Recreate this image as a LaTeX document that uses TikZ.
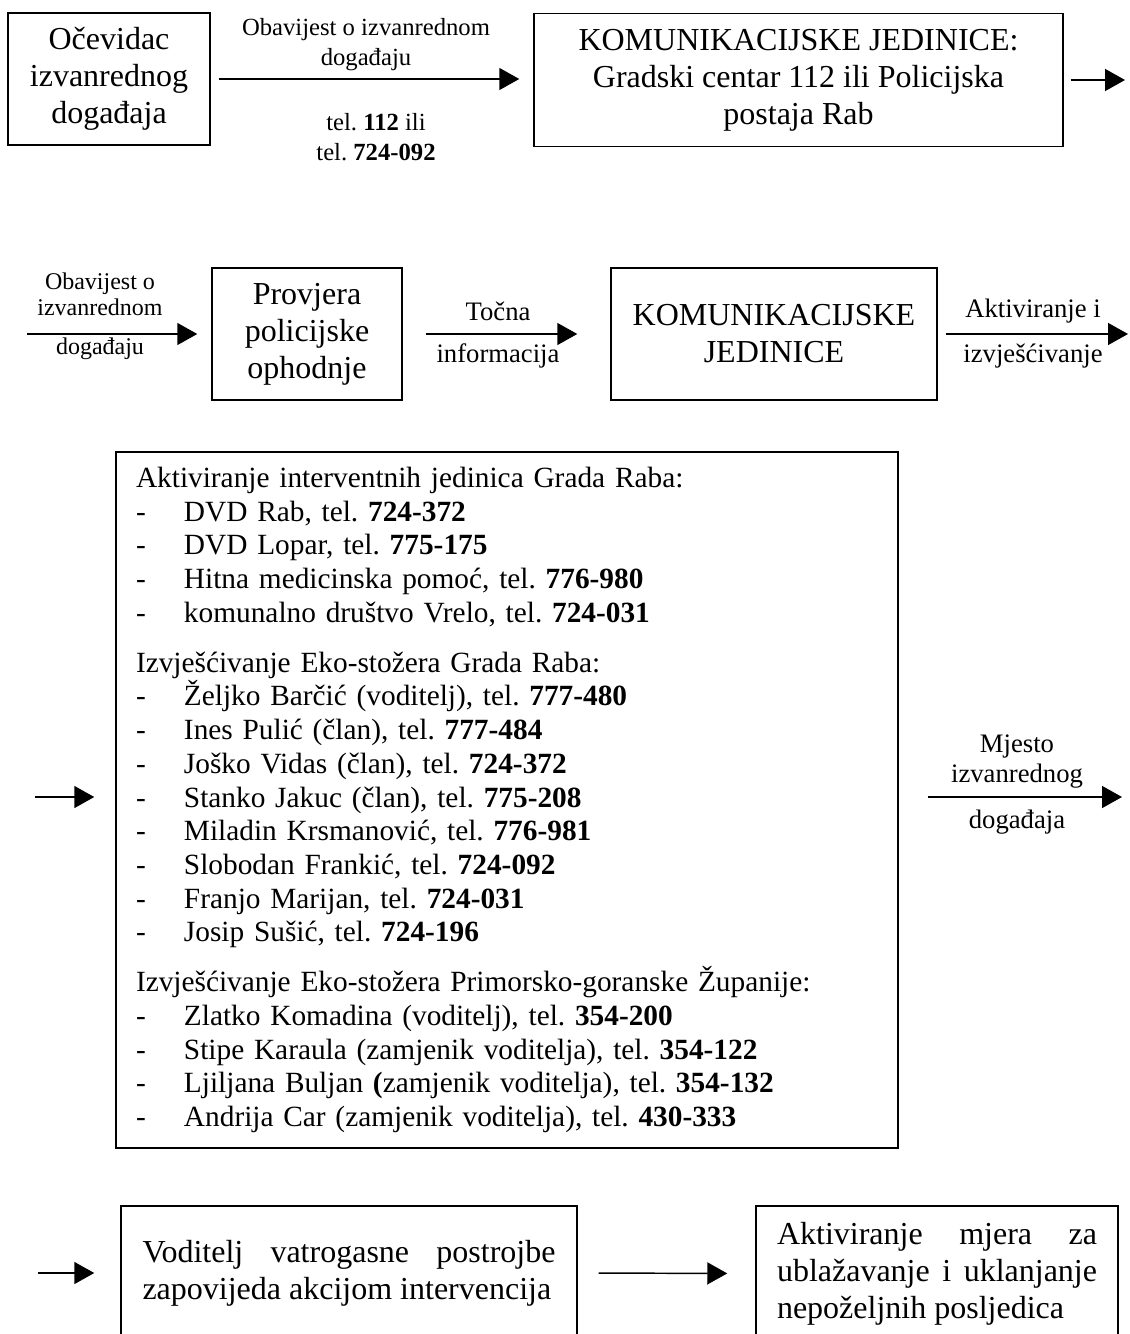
\documentclass[tikz,border=0pt]{standalone}
\usepackage{fontspec}
\setmainfont{Liberation Serif}
\usetikzlibrary{arrows.meta}
\newcommand\itm{\makebox[36pt][l]{-}}
\frenchspacing
\begin{document}
\begin{tikzpicture}[x=0.75pt,y=-0.75pt,
  box/.style={draw,line width=1.1pt,inner sep=0pt,align=center,font=\fontsize{24}{27.75}\selectfont},
  lbl/.style={inner sep=0pt,align=center},
  arr/.style={line width=1.1pt,-{Triangle[length=15pt,width=16.5pt]}}]
\useasboundingbox (0,0) rectangle (1129,1334);
\clip (0,0) rectangle (1129,1334);
% row 1
\node[box,minimum width=151.5pt,minimum height=99pt] (A) at (109,79) {Očevidac\\izvanrednog\\događaja};
\node[box,minimum width=396.75pt,minimum height=100pt] (B) at (798.5,80) {KOMUNIKACIJSKE JEDINICE:\\Gradski centar 112 ili Policijska\\postaja Rab};
\coordinate (r1) at (1125,80);
\draw[arr,shorten <=6pt,shorten >=10.5pt] (A.east) -- (A.east -| B.west);
\draw[arr,shorten <=5.25pt] (B.east |- r1) -- (r1);
\node[lbl,font=\fontsize{18.5}{22.5}\selectfont] (l1a) at (366,45) {Obavijest o izvanrednom\\događaju};
\node[lbl,font=\fontsize{18.5}{22.5}\selectfont] (l1b) at (376,137) {tel. \textbf{112} ili\\tel. \textbf{724-092}};
% row 2
\node[box,minimum width=142.5pt,minimum height=99pt] (C) at (307,334) {Provjera\\policijske\\ophodnje};
\node[box,minimum width=244.5pt,minimum height=99pt] (D) at (774,334) {KOMUNIKACIJSKE\\JEDINICE};
\coordinate (l2) at (27,334);
\coordinate (r2) at (1128,334);
\draw[arr,shorten >=10.5pt] (l2) -- (C.west);
\draw[arr,shorten <=17.25pt,shorten >=24.75pt] (C.east) -- (D.west);
\draw[arr,shorten <=6pt] (D.east) -- (r2);
\node[lbl,font=\fontsize{18}{19.5}\selectfont] (l2a) at (100,294) {Obavijest o\\izvanrednom};
\node[lbl,font=\fontsize{18}{19.5}\selectfont] (l2b) at (100,349) {događaju};
\node[lbl,font=\fontsize{20}{22}\selectfont] (l2c) at (498,311) {Točna};
\node[lbl,font=\fontsize{20}{22}\selectfont] (l2d) at (498,356) {informacija};
\node[lbl,font=\fontsize{20}{22}\selectfont] (l2e) at (1033,311) {Aktiviranje i};
\node[lbl,font=\fontsize{20}{22}\selectfont] (l2f) at (1033,356) {izvješćivanje};
% row 3
\node[draw,line width=1.1pt,minimum width=586.5pt,minimum height=522pt,text width=556.5pt,inner xsep=15pt,inner ysep=0pt,align=left,font=\fontsize{22}{25.3}\selectfont] (E) at (507,800) {%
Aktiviranje interventnih jedinica Grada Raba:\\
\itm DVD Rab, tel. \textbf{724-372}\\
\itm DVD Lopar, tel. \textbf{775-175}\\
\itm Hitna medicinska pomoć, tel. \textbf{776-980}\\
\itm komunalno društvo Vrelo, tel. \textbf{724-031}\\[12pt]
Izvješćivanje Eko-stožera Grada Raba:\\
\itm Željko Barčić (voditelj), tel. \textbf{777-480}\\
\itm Ines Pulić (član), tel. \textbf{777-484}\\
\itm Joško Vidas (član), tel. \textbf{724-372}\\
\itm Stanko Jakuc (član), tel. \textbf{775-208}\\
\itm Miladin Krsmanović, tel. \textbf{776-981}\\
\itm Slobodan Frankić, tel. \textbf{724-092}\\
\itm Franjo Marijan, tel. \textbf{724-031}\\
\itm Josip Sušić, tel. \textbf{724-196}\\[12pt]
Izvješćivanje Eko-stožera Primorsko-goranske Županije:\\
\itm Zlatko Komadina (voditelj), tel. \textbf{354-200}\\
\itm Stipe Karaula (zamjenik voditelja), tel. \textbf{354-122}\\
\itm Ljiljana Buljan \textbf{(}zamjenik voditelja), tel. \textbf{354-132}\\
\itm Andrija Car (zamjenik voditelja), tel. \textbf{430-333}};
\coordinate (l3) at (35,797);
\coordinate (r3) at (1122,797);
\draw[arr,shorten >=15.75pt] (l3) -- (l3 -| E.west);
\draw[arr,shorten <=21.75pt] (E.east |- r3) -- (r3);
\node[lbl,font=\fontsize{20}{22.5}\selectfont] (l3a) at (1017,762) {Mjesto\\izvanrednog};
\node[lbl,font=\fontsize{20}{22.5}\selectfont] (l3b) at (1017,822) {događaja};
% row 4
\node[box,minimum width=342pt,minimum height=100.5pt,align=left] (F) at (349,1273) {\makebox[309.75pt][s]{Voditelj vatrogasne postrojbe}\\zapovijeda akcijom intervencija};
\node[box,minimum width=271.5pt,minimum height=101.25pt,align=left] (G) at (937,1273.5) {\makebox[240pt][s]{Aktiviranje mjera za}\\\makebox[240pt][s]{ublažavanje i uklanjanje}\\nepoželjnih posljedica};
\coordinate (l4) at (38,1273);
\draw[arr,shorten >=19.5pt] (l4) -- (F.west);
\draw[arr,shorten <=15.75pt,shorten >=21pt] (F.east) -- (G.west);
\end{tikzpicture}
\end{document}
